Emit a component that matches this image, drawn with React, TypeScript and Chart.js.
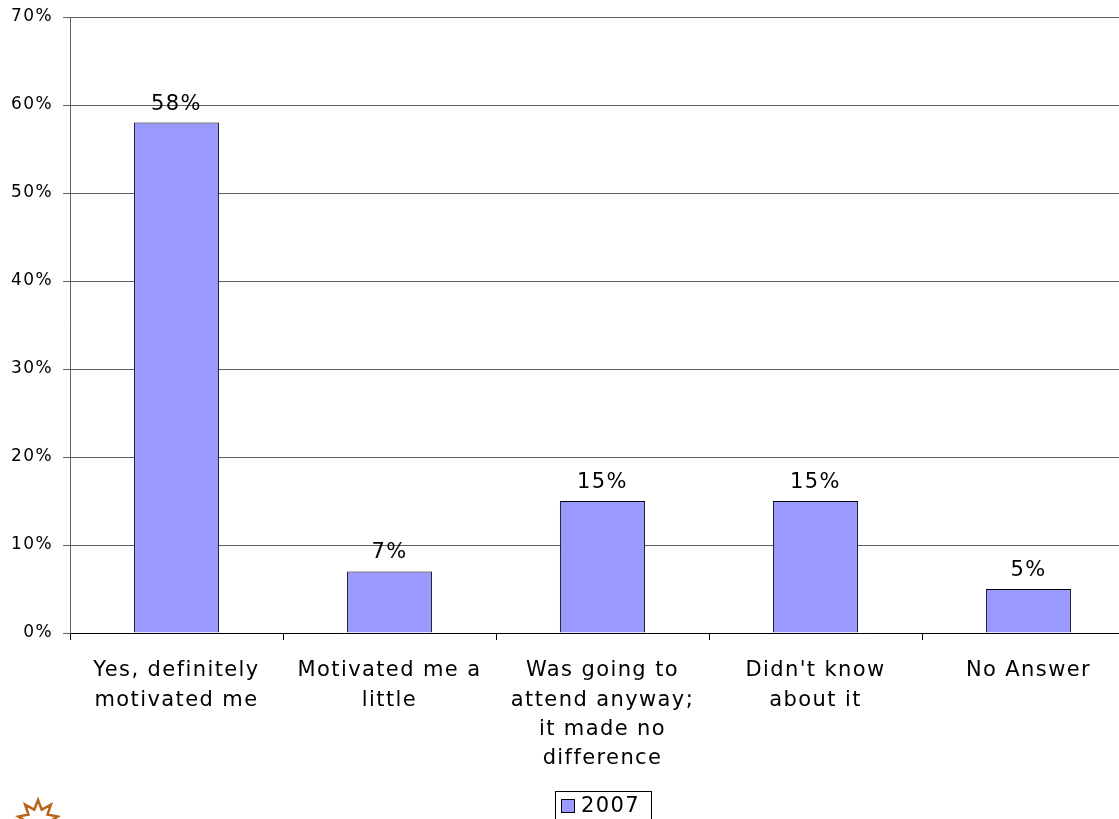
import React, { useEffect, useRef } from "react";
import { Chart, registerables } from "chart.js";

Chart.register(...registerables);

const categories: string[][] = [
  ["Yes, definitely", "motivated me"],
  ["Motivated me a", "little"],
  ["Was going to", "attend anyway;", "it made no", "difference"],
  ["Didn't know", "about it"],
  ["No Answer"],
];
const values2007: number[] = [58, 7, 15, 15, 5];
const seriesName = "2007";
const yTicks: number[] = [0, 10, 20, 30, 40, 50, 60, 70];

const FONT = "'DejaVu Sans', Verdana, sans-serif";
const BAR_COLOR = "#9999FF";
const SPACING = "1.4px";

const spacingPlugin = {
  id: "spacing",
  beforeLayout(chart: any) {
    (chart.ctx as any).letterSpacing = SPACING;
  },
  beforeDraw(chart: any) {
    (chart.ctx as any).letterSpacing = SPACING;
  },
};

const dataLabels = {
  id: "dataLabels",
  afterDatasetsDraw(chart: any) {
    const ctx = chart.ctx;
    const meta = chart.getDatasetMeta(0);
    ctx.save();
    ctx.font = `21px ${FONT}`;
    ctx.fillStyle = "#000";
    ctx.textAlign = "center";
    ctx.textBaseline = "alphabetic";
    meta.data.forEach((el: any, i: number) => {
      ctx.fillText(values2007[i] + "%", el.x, el.y - 13);
    });
    ctx.restore();
  },
};

const extras = {
  id: "extras",
  afterDraw(chart: any) {
    const ctx = chart.ctx;
    ctx.save();
    // legend box
    ctx.strokeStyle = "#000";
    ctx.lineWidth = 1;
    ctx.strokeRect(555.5, 791.5, 96, 40);
    ctx.fillStyle = BAR_COLOR;
    ctx.fillRect(561, 799, 13, 13);
    ctx.strokeRect(561.5, 799.5, 13, 13);
    ctx.fillStyle = "#000";
    ctx.font = `21px ${FONT}`;
    ctx.textAlign = "left";
    ctx.textBaseline = "middle";
    ctx.fillText(seriesName, 581, 807);
    // star logo
    const cx = 38, cy = 820, ro = 20, ri = 11, n = 9;
    ctx.beginPath();
    for (let k = 0; k < n * 2; k++) {
      const r = k % 2 === 0 ? ro : ri;
      const a = -Math.PI / 2 + (k * Math.PI) / n;
      const px = cx + r * Math.cos(a);
      const py = cy + r * Math.sin(a);
      if (k === 0) ctx.moveTo(px, py);
      else ctx.lineTo(px, py);
    }
    ctx.closePath();
    ctx.strokeStyle = "#B8651A";
    ctx.lineWidth = 2.5;
    ctx.stroke();
    ctx.restore();
  },
};

export default function App() {
  const ref = useRef<HTMLCanvasElement | null>(null);
  useEffect(() => {
    document.body.style.margin = "0";
    const chart = new Chart(ref.current as HTMLCanvasElement, {
      type: "bar",
      data: {
        labels: categories,
        datasets: [
          {
            label: seriesName,
            data: values2007,
            backgroundColor: BAR_COLOR,
            borderColor: "#000",
            borderWidth: 1,
            categoryPercentage: 1,
            barPercentage: 0.4,
          },
        ],
      },
      options: {
        animation: false,
        responsive: false,
        layout: { padding: { top: 17, right: 5, left: 0, bottom: 0 } },
        plugins: { legend: { display: false }, tooltip: { enabled: false } },
        scales: {
          x: {
            grid: { offset: true, drawOnChartArea: false, tickLength: 7, color: "#000" },
            border: { color: "#000" },
            ticks: {
              font: { family: FONT, size: 21, lineHeight: 1.4 },
              color: "#000",
              padding: 16,
              maxRotation: 0,
              autoSkip: false,
            },
            afterFit: (s: any) => {
              s.height = 186;
              s.paddingLeft = 0;
              s.paddingRight = 0;
            },
          },
          y: {
            min: 0,
            max: 70,
            afterBuildTicks: (s: any) => {
              s.ticks = yTicks.map((v) => ({ value: v }));
            },
            grid: { color: "#606060", tickLength: 7 },
            border: { color: "#606060" },
            ticks: {
              font: { family: FONT, size: 17 },
              color: "#000",
              padding: 10,
              callback: (v: any) => v + "%",
            },
            afterFit: (s: any) => {
              s.width = 70;
              s.paddingTop = 0;
              s.paddingBottom = 0;
            },
          },
        },
      },
      plugins: [spacingPlugin, dataLabels, extras],
    });
    return () => chart.destroy();
  }, []);
  return (
    <div style={{ width: 1119, height: 819, overflow: "hidden", position: "relative" }}>
      <canvas ref={ref} width={1140} height={819} style={{ display: "block" }} />
    </div>
  );
}
